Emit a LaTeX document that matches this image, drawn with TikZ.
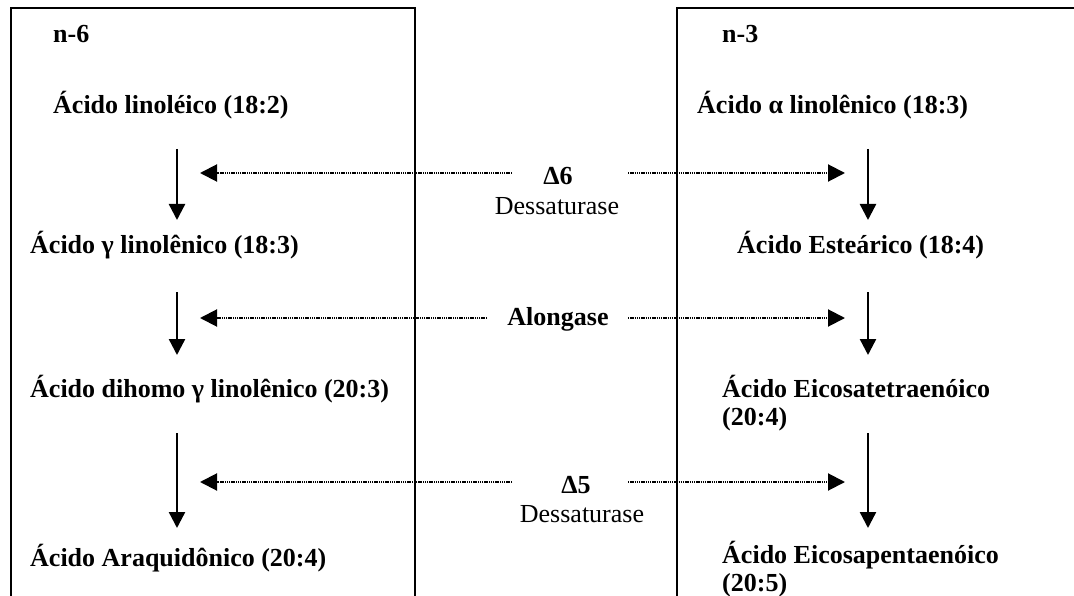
\documentclass[tikz,border=0pt]{standalone}
\usepackage{fontspec}
\setmainfont{Liberation Serif}
\usetikzlibrary{arrows.meta}
\begin{document}
\begin{tikzpicture}[x=1pt,y=-1pt,
  txt/.style={anchor=base west,inner sep=0pt,font=\fontsize{26}{28}\selectfont\bfseries},
  lbl/.style={anchor=base,inner sep=0pt,font=\fontsize{26}{28}\selectfont\bfseries},
  sub/.style={anchor=base,inner sep=0pt,font=\fontsize{26}{28}\selectfont},
  boxline/.style={line width=2.4pt},
  flow/.style={line width=2.4pt,-{Triangle[width=16pt,length=16pt]}},
  enz/.style={line width=2pt,dash pattern=on 1.4pt off 0.8pt,-{Triangle[width=17pt,length=17pt]}}]
\useasboundingbox (0,0) rectangle (1074,596);
% boxes (open at the bottom / right, cut by the page)
\draw[boxline] (11,600) -- (11,8) -- (415,8) -- (415,600);
\draw[boxline] (677,600) -- (677,8) -- (1080,8);
% left column
\node[txt] (n6) at (53,43) {n-6};
\node[txt] (l1) at (53,114) {Ácido linoléico (18:2)};
\node[txt] (l2) at (30,254) {Ácido γ linolênico (18:3)};
\node[txt] (l3) at (30,397) {Ácido dihomo γ linolênico (20:3)};
\node[txt] (l4) at (30,566) {Ácido Araquidônico (20:4)};
% right column
\node[txt] (n3) at (722,43) {n-3};
\node[txt] (r1) at (697,114) {Ácido α linolênico (18:3)};
\node[txt] (r2) at (737,254) {Ácido Esteárico (18:4)};
\node[txt] (r3) at (722,397) {Ácido Eicosatetraenóico};
\node[txt] (r3b) at (722,425) {(20:4)};
\node[txt] (r4) at (722,563) {Ácido Eicosapentaenóico};
\node[txt] (r4b) at (722,591) {(20:5)};
% enzyme labels
\node[lbl] (d6) at (558,185) {Δ6};
\node[sub] (d6s) at (557,215) {Dessaturase};
\node[lbl] (alo) at (558,325) {Alongase};
\node[lbl] (d5) at (576,493) {Δ5};
\node[sub] (d5s) at (582,522) {Dessaturase};
% arrow end points
\coordinate (la1) at (177,149); \coordinate (lb1) at (177,220);
\coordinate (la2) at (177,292); \coordinate (lb2) at (177,355);
\coordinate (la3) at (177,433); \coordinate (lb3) at (177,528);
\coordinate (ra1) at (868,149); \coordinate (rb1) at (868,220);
\coordinate (ra2) at (868,292); \coordinate (rb2) at (868,355);
\coordinate (ra3) at (868,433); \coordinate (rb3) at (868,528);
\coordinate (e1l) at (200,173); \coordinate (e1r) at (845,173);
\coordinate (e2l) at (200,318); \coordinate (e2r) at (845,318);
\coordinate (e3l) at (200,482); \coordinate (e3r) at (845,482);
\coordinate (s1l) at (512,173); \coordinate (s1r) at (628,173);
\coordinate (s2l) at (487,318); \coordinate (s2r) at (628,318);
\coordinate (s3l) at (512,482); \coordinate (s3r) at (628,482);
% flow arrows
\draw[flow] (la1) -- (lb1);
\draw[flow] (la2) -- (lb2);
\draw[flow] (la3) -- (lb3);
\draw[flow] (ra1) -- (rb1);
\draw[flow] (ra2) -- (rb2);
\draw[flow] (ra3) -- (rb3);
% enzyme arrows
\draw[enz] (s1l) -- (e1l);
\draw[enz] (s1r) -- (e1r);
\draw[enz] (s2l) -- (e2l);
\draw[enz] (s2r) -- (e2r);
\draw[enz] (s3l) -- (e3l);
\draw[enz] (s3r) -- (e3r);
\end{tikzpicture}
\end{document}
